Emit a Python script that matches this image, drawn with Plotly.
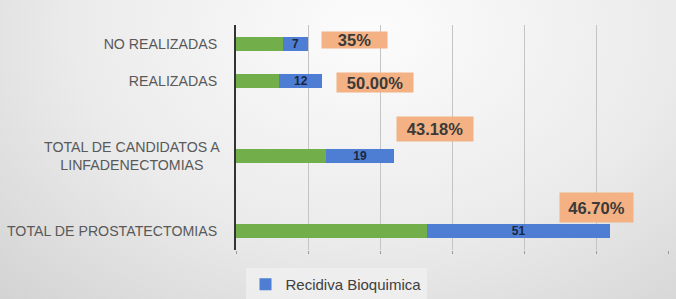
import base64
import plotly.graph_objects as go

# ---- data ----
categories = ["TOTAL DE PROSTATECTOMIAS", " ", "TOTAL DE CANDIDATOS A LINFADENECTOMIAS",
              "  ", "REALIZADAS", "NO REALIZADAS"]
tick_labels = ["TOTAL DE PROSTATECTOMIAS", "", "", "", "REALIZADAS", "NO REALIZADAS"]
wrapped_label = "TOTAL DE CANDIDATOS A<br>LINFADENECTOMIAS"
green_values = [53, None, 25, None, 12, 13]
recidiva_values = [51, None, 19, None, 12, 7]
percent_labels = ["46.70%", None, "43.18%", None, "50.00%", "35%"]

# ---- style ----
GREEN = "#72AF4B"
BLUE = "#4D7ED3"
ORANGE = "#F4B183"
W, H = 676, 299
L, R, T, B = 236, 8, 25, 49
PW, PH = W - L - R, H - T - B
TICK_FONT = dict(family="Liberation Sans", size=14.2, color="#595959")

label_xshift = [-14, 0, 41, 0, 53, 46]
label_yshift = [24, 0, 27, 0, -1, 4]
box_w = [73, 0, 76, 0, 76, 65]
box_h = [29, 0, 24, 0, 19, 16]

fig = go.Figure()
fig.add_trace(go.Bar(
    y=categories, x=green_values, orientation="h", name="Total",
    marker=dict(color=GREEN, line=dict(width=0)), showlegend=False, width=0.37,
    hoverinfo="skip"))
fig.add_trace(go.Bar(
    y=categories, x=recidiva_values, orientation="h", name="Recidiva Bioquimica",
    marker=dict(color=BLUE, line=dict(width=0)), width=0.37,
    text=[str(v) if v is not None else "" for v in recidiva_values],
    textposition="inside", insidetextanchor="middle", textangle=0,
    textfont=dict(family="Liberation Sans", size=12, color="#1b2640", weight="bold"),
    constraintext="none"))

for i, lab in enumerate(percent_labels):
    if lab is None:
        continue
    total = green_values[i] + recidiva_values[i]
    fig.add_annotation(
        x=total, y=categories[i], xref="x", yref="y", text=lab, showarrow=False,
        xanchor="center", yanchor="middle", xshift=label_xshift[i], yshift=label_yshift[i],
        bgcolor=ORANGE, width=box_w[i], height=box_h[i], borderpad=0,
        font=dict(family="Liberation Sans", size=16.5, color="#3a3a3a", weight="bold"))

# centred two-line category label
fig.add_annotation(x=0, y=categories[2], xref="paper", yref="y", text=wrapped_label,
                   showarrow=False, xanchor="right", yanchor="middle", align="center",
                   xshift=-14, font=TICK_FONT)

svg = f'''<svg xmlns="http://www.w3.org/2000/svg" width="{W}" height="{H}" viewBox="0 0 {W} {H}" preserveAspectRatio="none">
<defs><radialGradient id="g" cx="0.55" cy="0.1" r="0.8" gradientTransform="translate(0.55,0.1) scale(1,1.6) translate(-0.55,-0.1)">
<stop offset="0" stop-color="#fcfcfc"/><stop offset="0.55" stop-color="#ebebeb"/><stop offset="1" stop-color="#d2d2d2"/></radialGradient></defs>
<rect width="{W}" height="{H}" fill="url(#g)"/></svg>'''
src = "data:image/svg+xml;base64," + base64.b64encode(svg.encode()).decode()

fig.update_layout(
    width=W, height=H, barmode="stack",
    margin=dict(l=L, r=R, t=T, b=B, pad=0, autoexpand=False),
    paper_bgcolor="#e6e6e6", plot_bgcolor="rgba(0,0,0,0)",
    font=dict(family="Liberation Sans", color="#595959"),
    images=[dict(source=src, xref="paper", yref="paper", x=-L / PW, y=1 + T / PH,
                 sizex=W / PW, sizey=H / PH, sizing="stretch", layer="below",
                 xanchor="left", yanchor="top")],
    legend=dict(orientation="h", x=(336 - L) / PW, xanchor="center", y=-18 / PH, yanchor="top",
                bgcolor="rgba(238,238,238,0.9)", font=dict(size=15, color="#404040"),
                itemwidth=30),
    xaxis=dict(range=[0, 120], dtick=20, showgrid=True, gridcolor="#c4c4c4", gridwidth=1,
               zeroline=False, showticklabels=False, ticks="outside", ticklen=3,
               tickcolor="#9a9a9a", showline=False, fixedrange=True, automargin=False),
    yaxis=dict(type="category", categoryorder="array", categoryarray=categories,
               tickmode="array", tickvals=categories, ticktext=tick_labels,
               range=[-0.5, 5.5], showline=True, linecolor="#333333", linewidth=2,
               ticks="", ticklabelstandoff=14, showgrid=False, zeroline=False,
               tickfont=TICK_FONT, fixedrange=True, automargin=False),
)
fig.write_html("out.html", config={"displayModeBar": False},
               post_script="document.body.style.margin='0';")
